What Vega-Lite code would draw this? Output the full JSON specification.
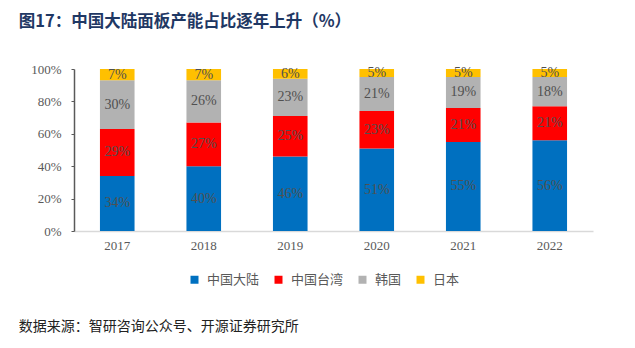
{
  "$schema": "https://vega.github.io/schema/vega-lite/v6.json",
  "background": "white",
  "padding": {"left": 18, "top": 13, "right": 20, "bottom": 10},
  "title": {"text": "图17：中国大陆面板产能占比逐年上升（%）", "anchor": "start", "frame": "bounds", "font": "Noto Sans CJK SC", "fontSize": 16.5, "fontWeight": "bold", "color": "#1F3864", "dx": 0, "offset": 33},
  "config": {
    "view": {"stroke": null},
    "concat": {"spacing": 0},
    "axisY": {"labelFont": "Liberation Serif", "labelFontSize": 13, "labelColor": "#595959", "labelOverlap": false, "grid": false, "domainColor": "#595959", "domainWidth": 1.5, "tickColor": "#595959", "tickSize": 3, "labelPadding": 10},
    "axisX": {"labelFont": "Liberation Serif", "labelFontSize": 13, "labelColor": "#595959", "labelPadding": 8, "ticks": false, "domainColor": "#D9D9D9", "domainWidth": 1.5}
  },
  "resolve": {"legend": {"color": "independent"}},
  "vconcat": [
    {
      "width": 519,
      "height": 162,
      "title": {"text": "数据来源：智研咨询公众号、开源证券研究所", "orient": "bottom", "anchor": "start", "frame": "bounds", "font": "Noto Sans CJK SC", "fontSize": 14, "fontWeight": "normal", "color": "#222222", "dx": -12, "offset": 33},
      "data": {"values": [
        {"year": "2017", "region": "中国大陆", "order": 1, "value": 0.34},
        {"year": "2017", "region": "中国台湾", "order": 2, "value": 0.29},
        {"year": "2017", "region": "韩国", "order": 3, "value": 0.30},
        {"year": "2017", "region": "日本", "order": 4, "value": 0.07},
        {"year": "2018", "region": "中国大陆", "order": 1, "value": 0.40},
        {"year": "2018", "region": "中国台湾", "order": 2, "value": 0.27},
        {"year": "2018", "region": "韩国", "order": 3, "value": 0.26},
        {"year": "2018", "region": "日本", "order": 4, "value": 0.07},
        {"year": "2019", "region": "中国大陆", "order": 1, "value": 0.46},
        {"year": "2019", "region": "中国台湾", "order": 2, "value": 0.25},
        {"year": "2019", "region": "韩国", "order": 3, "value": 0.23},
        {"year": "2019", "region": "日本", "order": 4, "value": 0.06},
        {"year": "2020", "region": "中国大陆", "order": 1, "value": 0.51},
        {"year": "2020", "region": "中国台湾", "order": 2, "value": 0.23},
        {"year": "2020", "region": "韩国", "order": 3, "value": 0.21},
        {"year": "2020", "region": "日本", "order": 4, "value": 0.05},
        {"year": "2021", "region": "中国大陆", "order": 1, "value": 0.55},
        {"year": "2021", "region": "中国台湾", "order": 2, "value": 0.21},
        {"year": "2021", "region": "韩国", "order": 3, "value": 0.19},
        {"year": "2021", "region": "日本", "order": 4, "value": 0.05},
        {"year": "2022", "region": "中国大陆", "order": 1, "value": 0.56},
        {"year": "2022", "region": "中国台湾", "order": 2, "value": 0.21},
        {"year": "2022", "region": "韩国", "order": 3, "value": 0.18},
        {"year": "2022", "region": "日本", "order": 4, "value": 0.05}
      ]},
      "transform": [
        {"stack": "value", "groupby": ["year"], "sort": [{"field": "order"}], "as": ["v0", "v1"]},
        {"calculate": "(datum.v0 + datum.v1) / 2", "as": "mid"}
      ],
      "encoding": {
        "x": {"field": "year", "type": "ordinal", "scale": {"paddingInner": 0.6, "paddingOuter": 0.3},
          "axis": {"title": null, "labelAngle": 0}}
      },
      "layer": [
        {
          "mark": {"type": "bar"},
          "encoding": {
            "y": {"field": "v0", "type": "quantitative", "scale": {"domain": [0, 1]},
              "axis": {"title": null, "format": ".0%", "values": [0, 0.2, 0.4, 0.6, 0.8, 1]}},
            "y2": {"field": "v1"},
            "color": {"field": "region", "type": "nominal",
              "scale": {"domain": ["中国大陆", "中国台湾", "韩国", "日本"], "range": ["#0070C0", "#FF0000", "#B2B2B2", "#FFC000"]},
              "legend": {"title": null, "orient": "none", "legendX": 114, "legendY": 204, "direction": "horizontal", "symbolType": "square", "symbolSize": 64, "symbolStrokeWidth": 0, "labelFont": "Noto Sans CJK SC", "labelFontSize": 13, "labelColor": "#595959", "labelOffset": 6, "columnPadding": 12}}
          }
        },
        {
          "mark": {"type": "text", "font": "Liberation Serif", "fontSize": 14, "color": "#505050", "baseline": "middle"},
          "encoding": {
            "y": {"field": "mid", "type": "quantitative",
              "axis": {"title": null, "format": ".0%", "values": [0, 0.2, 0.4, 0.6, 0.8, 1]}},
            "text": {"field": "value", "type": "quantitative", "format": ".0%"}
          }
        }
      ]
    }
  ]
}
